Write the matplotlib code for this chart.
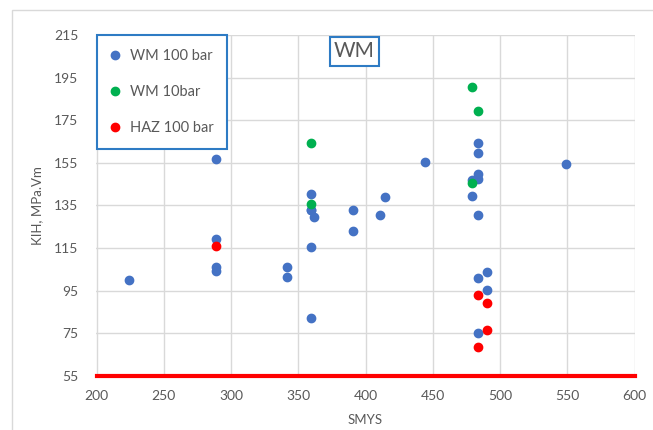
import numpy as np
import matplotlib.pyplot as plt
from matplotlib.patches import Rectangle

plt.rcParams['font.family'] = ['Lato', 'DejaVu Sans']

# WM 100 bar
wm100_x = [224, 289, 289, 289, 289, 342, 342, 359.5, 359.5, 359.5, 362, 359.5, 359.5,
           391, 391, 414.5, 411, 444, 549, 484, 484, 484, 484, 479, 479, 484,
           490, 484, 490, 484]
wm100_y = [100, 157, 119.3, 106, 104.5, 106, 101.6, 140.5, 133, 82.3, 129.6, 115.5, 133,
           133, 123, 139, 130.4, 155.5, 154.7, 164.2, 159.5, 149.7, 147.2, 146.8, 139.6, 130.5,
           103.7, 101.1, 95.4, 75]

# WM 10 bar
wm10_x = [359.5, 359.5, 479, 484, 479]
wm10_y = [164.5, 135.5, 190.5, 179.5, 145.4]

# HAZ 100 bar
haz_x = [289, 484, 490, 490, 484]
haz_y = [116.1, 92.9, 89.1, 76.6, 68.4]

# lower limit line
base_x = [200, 600]
base_y = [55, 55]

xticks = np.arange(200, 601, 50)
yticks = np.arange(55, 216, 20)

grey = '#595959'
frame_blue = '#2E7BC4'

fig = plt.figure(figsize=(6.53, 4.30), dpi=100)
ax = fig.add_axes([96.5 / 653, (430 - 376) / 430, 538 / 653, 341 / 430])

# chart area border
fig.patches.append(Rectangle((11.5 / 653, -0.1), 1.2, (430 - 10.5) / 430 + 0.1,
                             transform=fig.transFigure, fill=False,
                             edgecolor='#D9D9D9', linewidth=1))

ax.plot(wm100_x, wm100_y, 'o', color='#4472C4', markersize=6, label='WM 100 bar', zorder=3)
ax.plot(wm10_x, wm10_y, 'o', color='#00B050', markersize=6, label='WM 10bar', zorder=4)
ax.plot(haz_x, haz_y, 'o', color='#FF0000', markersize=6, label='HAZ 100 bar', zorder=5)
ax.plot(base_x, base_y, '-', color='#FF0000', linewidth=3, clip_on=False, zorder=6)

ax.set_xlim(200, 600)
ax.set_ylim(55, 215)
ax.set_xticks(xticks)
ax.set_yticks(yticks)
ax.grid(True, color='#D9D9D9', linewidth=1)
ax.set_axisbelow(True)
for s in ax.spines.values():
    s.set_visible(False)
ax.tick_params(length=0, colors=grey, labelsize=10)
ax.tick_params(axis='y', pad=13)
ax.tick_params(axis='x', pad=10)

ax.set_xlabel('SMYS', color=grey, fontsize=9.5, labelpad=9)
ax.set_ylabel('KIH, MPa.Vm', color=grey, fontsize=9.5, labelpad=8)

leg = ax.legend(loc='upper left', bbox_to_anchor=(0.001, 0.999), borderaxespad=0,
                fancybox=False, fontsize=10.5, labelspacing=1.5, borderpad=0.95,
                handlelength=0.6, handletextpad=0.7)
leg.get_frame().set_edgecolor(frame_blue)
leg.get_frame().set_linewidth(1.5)
leg.get_frame().set_alpha(1)
for t in leg.get_texts():
    t.set_color(grey)

ax.text(0.4795, 0.952, 'WM', transform=ax.transAxes, ha='center', va='center',
        fontsize=15, color=grey,
        bbox=dict(boxstyle='square,pad=0.2', facecolor='white',
                  edgecolor=frame_blue, linewidth=1.5))

fig.savefig('out.png', dpi=100)
